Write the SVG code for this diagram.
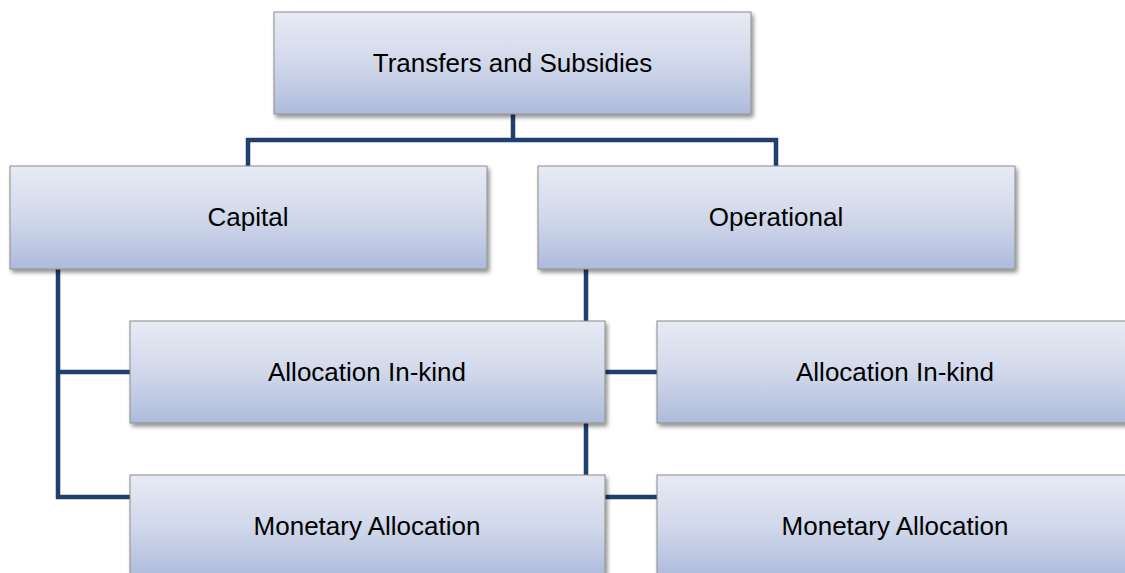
<svg xmlns="http://www.w3.org/2000/svg" width="1125" height="573" viewBox="0 0 1125 573">
<style>
.box{fill:url(#g);stroke:#8c8c8c;stroke-width:1;filter:url(#sh)}
.lbl{font-family:"Liberation Sans",Arial,sans-serif;font-size:26px;fill:#000;text-anchor:middle;dominant-baseline:central}
.conn{fill:none;stroke:#1f3f6e;stroke-width:4.5;stroke-linejoin:miter}
</style>
<defs>
<linearGradient id="g" x1="0" y1="0" x2="0" y2="1">
<stop offset="0" stop-color="#e7ebf5"/>
<stop offset="0.5" stop-color="#d1d8ea"/>
<stop offset="1" stop-color="#aebbdc"/>
</linearGradient>
<filter id="sh" x="-5%" y="-10%" width="110%" height="130%">
<feGaussianBlur in="SourceAlpha" stdDeviation="2"/>
<feOffset dx="2" dy="3" result="b"/>
<feComponentTransfer><feFuncA type="linear" slope="0.45"/></feComponentTransfer>
<feMerge><feMergeNode/><feMergeNode in="SourceGraphic"/></feMerge>
</filter>
</defs>
<rect width="1125" height="573" fill="#fff"/>
<g id="connectors">
<path class="conn" d="M513 114 V140 M248 166 V140 H776 V166"/>
<path class="conn" d="M58 269 V497 H130 M58 372 H130"/>
<path class="conn" d="M586 269 V475 M605 372 H657 M605 497 H657"/>
</g>
<g id="n-root"><rect class="box" x="274" y="12" width="477" height="102"/><text class="lbl" x="512.5" y="63">Transfers and Subsidies</text></g>
<g id="n-capital"><rect class="box" x="10" y="166" width="477" height="103"/><text class="lbl" x="248" y="217">Capital</text></g>
<g id="n-operational"><rect class="box" x="538" y="166" width="477" height="103"/><text class="lbl" x="776" y="217">Operational</text></g>
<g id="n-cap-inkind"><rect class="box" x="130" y="321" width="475" height="102"/><text class="lbl" x="367" y="372">Allocation In-kind</text></g>
<g id="n-op-inkind"><rect class="box" x="657" y="321" width="476" height="102"/><text class="lbl" x="895" y="372">Allocation In-kind</text></g>
<g id="n-cap-monetary"><rect class="box" x="130" y="475" width="475" height="102"/><text class="lbl" x="367" y="526">Monetary Allocation</text></g>
<g id="n-op-monetary"><rect class="box" x="657" y="475" width="476" height="102"/><text class="lbl" x="895" y="526">Monetary Allocation</text></g>
</svg>
